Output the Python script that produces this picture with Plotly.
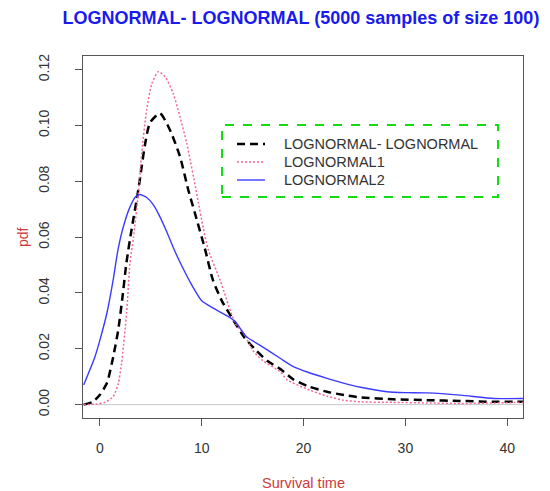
import plotly.graph_objects as go

# ---- data ----
lnln_x = [-1.6, -0.7, 0.0, 0.7, 1.3, 1.8, 2.2, 2.6, 3.1, 3.77, 4.1, 4.42, 4.92, 5.9, 6.88,
          7.87, 8.68, 9.3, 10.3, 11.1, 12.0, 13.1, 14.2, 15.4, 16.5, 17.7, 19.0, 20.5, 22.3,
          24.0, 25.6, 28.8, 32.1, 35.4, 38.7, 41.6]
lnln_y = [0.0000, 0.0010, 0.0035, 0.0078, 0.0170, 0.0267, 0.0380, 0.0507, 0.0625, 0.0769,
          0.0852, 0.0930, 0.1010, 0.1044, 0.0984, 0.0888, 0.0769, 0.0690, 0.0560, 0.0446,
          0.0370, 0.0303, 0.0240, 0.0192, 0.0155, 0.0128, 0.0090, 0.0065, 0.0046, 0.0034,
          0.0026, 0.0019, 0.0016, 0.0013, 0.0010, 0.0010]

ln1_x = [-1.6, -0.3, 0.5, 1.3, 1.8, 2.13, 2.62, 2.95, 3.3, 3.77, 4.1, 4.59, 5.1, 5.74, 6.4,
         7.2, 7.87, 8.53, 9.5, 10.16, 10.65, 11.8, 13.3, 14.2, 15.0, 15.9, 17.7, 18.4,
         20.6, 22.3, 23.9, 25.6, 28.8, 32.1, 35.4, 38.7, 41.6]
ln1_y = [0.0000, 0.0002, 0.0008, 0.0028, 0.0075, 0.0148, 0.0327, 0.0506, 0.0600, 0.0757,
         0.0900, 0.1056, 0.1150, 0.1193, 0.1175, 0.1115, 0.1030, 0.0936, 0.0757, 0.0630,
         0.0554, 0.0446, 0.0291, 0.0250, 0.0195, 0.0160, 0.0118, 0.0088, 0.0052, 0.0030,
         0.0016, 0.0010, 0.0008, 0.0006, 0.0004, 0.0006, 0.0008]

ln2_x = [-1.6, -0.5, 0.0, 0.7, 1.3, 1.8, 2.4, 3.0, 3.5, 3.9, 4.6, 5.2, 5.8, 6.5, 7.3, 8.0,
         9.0, 10.0, 11.0, 12.5, 13.3, 14.4, 15.7, 17.7, 19.0, 20.5, 22.3, 24.0, 25.6, 28.2,
         30.0, 32.1, 35.4, 38.7, 41.6]
ln2_y = [0.0070, 0.0170, 0.0231, 0.0330, 0.0446, 0.0560, 0.0650, 0.0712, 0.0745, 0.0753,
         0.0742, 0.0718, 0.0680, 0.0625, 0.0555, 0.0500, 0.0430, 0.0372, 0.0348, 0.0318,
         0.0297, 0.0243, 0.0213, 0.0166, 0.0136, 0.0115, 0.0094, 0.0076, 0.0062, 0.0046,
         0.0043, 0.0042, 0.0034, 0.0022, 0.0022]

series_names = ["LOGNORMAL- LOGNORMAL", "LOGNORMAL1", "LOGNORMAL2"]
x_ticks = [0, 10, 20, 30, 40]
y_ticks = [0.00, 0.02, 0.04, 0.06, 0.08, 0.10, 0.12]

FONT = "Liberation Sans, Arial, sans-serif"
styles = [
    dict(color="black", width=2.5, dash="8px,5px"),
    dict(color="#f3679b", width=1.5, dash="2px,2px"),
    dict(color="#3b3bff", width=1.4),
]
datasets = [(lnln_x, lnln_y), (ln1_x, ln1_y), (ln2_x, ln2_y)]

fig = go.Figure()
for name, (xs, ys), st in zip(series_names, datasets, styles):
    fig.add_trace(go.Scatter(x=xs, y=ys, mode="lines", name=name, showlegend=False,
                             line=dict(shape="spline", smoothing=0.6, **st)))

# plot-area geometry (px) used to place the custom legend
L, R, T, B = 83, 523, 56, 418
def px(xp):
    return (xp - L) / (R - L)
def py(yp):
    return (B - yp) / (B - T)

# gray horizontal line at zero
fig.add_shape(type="line", xref="paper", yref="y", x0=0, x1=1, y0=0, y1=0,
              line=dict(color="#c8c8c8", width=1), layer="below")
# dashed green legend box
fig.add_shape(type="rect", xref="paper", yref="paper",
              x0=px(222), x1=px(498), y0=py(197), y1=py(125),
              line=dict(color="#11dd11", width=2, dash="dash"))

annotations = []
for i, (name, st) in enumerate(zip(series_names, styles)):
    ypix = 144 + 18 * i
    fig.add_shape(type="line", xref="paper", yref="paper",
                  x0=px(237), x1=px(265), y0=py(ypix), y1=py(ypix), line=st)
    annotations.append(dict(text=name, xref="paper", yref="paper", x=px(282), y=py(ypix),
                            xanchor="left", yanchor="middle", showarrow=False,
                            font=dict(family=FONT, size=14.5, color="#333333")))

annotations += [
    dict(text="pdf", xref="paper", yref="paper", x=px(23), y=0.5,
         showarrow=False, textangle=-90, xanchor="center", yanchor="middle",
         font=dict(family=FONT, size=14, color="#cc3b3b")),
    dict(text="Survival time", xref="paper", yref="paper", x=0.5, y=py(483),
         showarrow=False, xanchor="center", yanchor="middle",
         font=dict(family=FONT, size=14.5, color="#cc3b3b")),
]

fig.update_layout(
    width=550, height=491,
    margin=dict(l=L, r=550 - R, t=T, b=491 - B),
    paper_bgcolor="white", plot_bgcolor="white",
    font=dict(family=FONT, size=14, color="#333333"),
    title=dict(text="LOGNORMAL- LOGNORMAL (5000 samples of size 100)",
               x=301 / 550, xref="container", xanchor="center",
               y=1 - 18 / 491, yref="container", yanchor="middle",
               font=dict(family=FONT, size=18, color="#1a1aee", weight="bold")),
    showlegend=False,
    xaxis=dict(range=[-1.66, 41.55], tickvals=x_ticks, ticktext=[str(v) for v in x_ticks],
               showgrid=False, zeroline=False, showline=True, mirror=True,
               linecolor="#555555", linewidth=1, ticks="outside", ticklen=7,
               tickcolor="#555555", ticklabelstandoff=10),
    yaxis=dict(range=[-0.0048, 0.1249], tickvals=y_ticks,
               ticktext=["%.2f" % v for v in y_ticks], tickangle=-90,
               showgrid=False, zeroline=False, showline=True, mirror=True,
               linecolor="#555555", linewidth=1, ticks="outside", ticklen=7,
               tickcolor="#555555", ticklabelstandoff=20),
    annotations=annotations,
)

fig.write_html("out.html")
